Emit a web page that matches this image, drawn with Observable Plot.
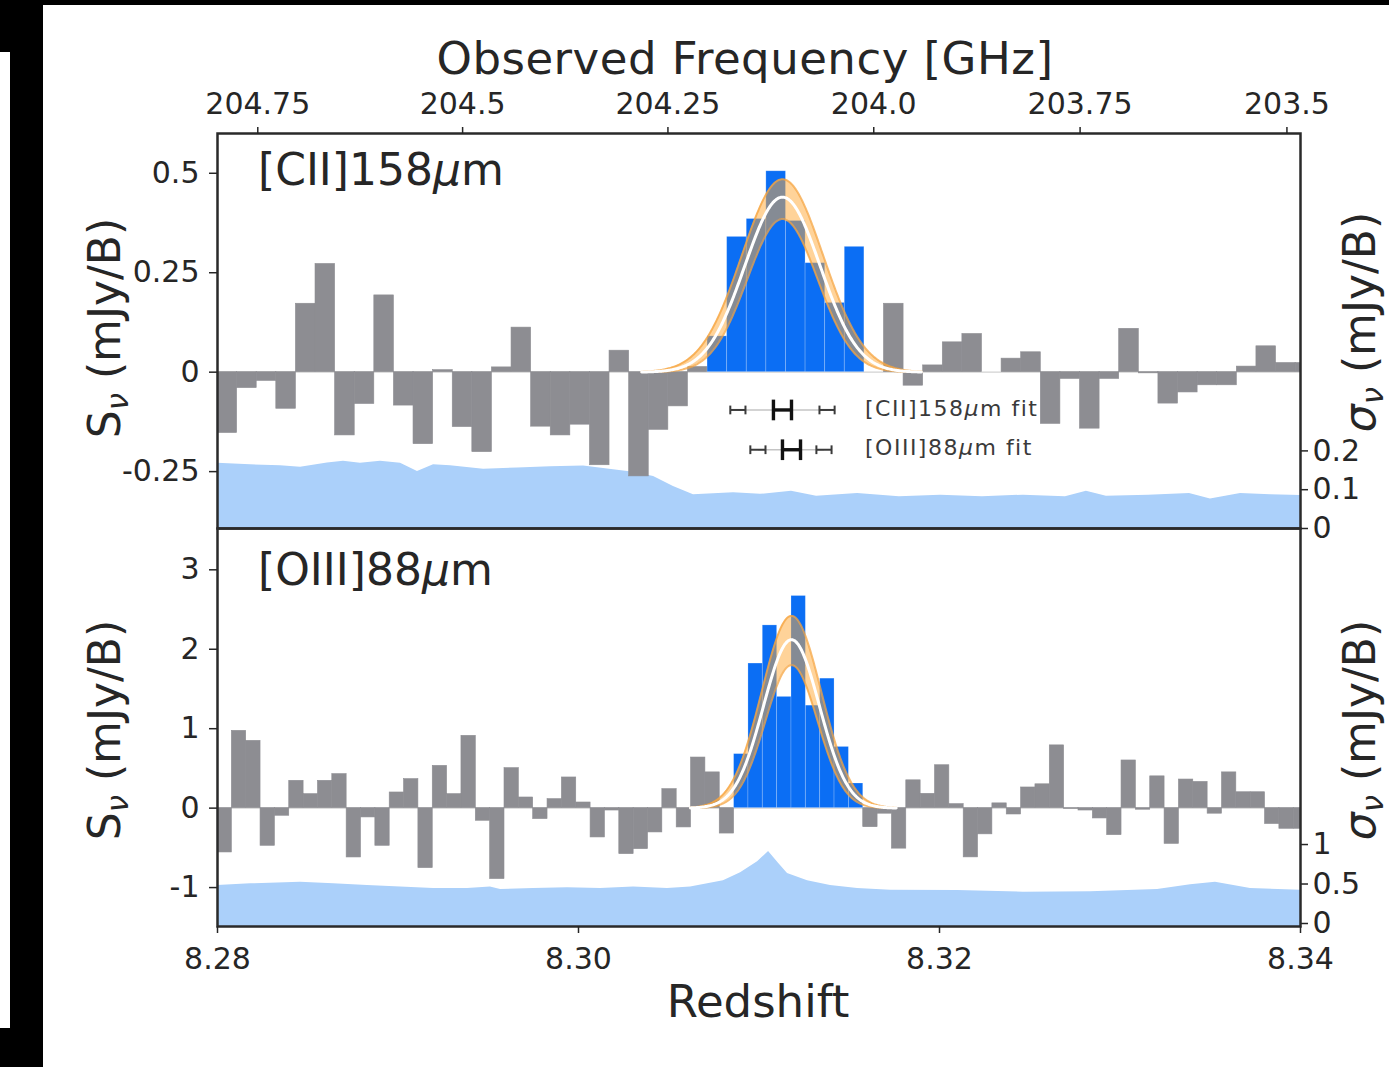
<!DOCTYPE html>
<html><head><meta charset="utf-8">
<script src="https://cdn.jsdelivr.net/npm/d3@7"></script>
<script src="https://cdn.jsdelivr.net/npm/@observablehq/plot@0.6"></script>
<style>
html,body{margin:0;padding:0;background:#000;}
#page{position:relative;width:1389px;height:1067px;overflow:hidden;background:#000;font-family:"DejaVu Sans",sans-serif;color:#262626;}
.white{position:absolute;background:#fff;}
.txt{position:absolute;white-space:nowrap;line-height:1;font-family:"DejaVu Sans",sans-serif;color:#262626;}
.rot{transform-origin:center center;transform:translate(-50%,-50%) rotate(-90deg);}
sub{font-size:0.7em;vertical-align:-0.25em;line-height:0;}
</style></head><body>
<div id="page">
  <div class="white" style="left:43px;top:5px;width:1346px;height:1062px"></div>
  <div class="white" style="left:0;top:52px;width:10px;height:976px"></div>
  <div id="plots"></div>
  <div class="txt" style="left:745px;top:36px;font-size:45px;letter-spacing:0.5px;transform:translateX(-50%)">Observed Frequency [GHz]</div>
  <div class="txt" style="left:758px;top:979px;font-size:45px;transform:translateX(-50%)">Redshift</div>
  <div class="txt rot" style="left:105px;top:328px;font-size:44px">S<sub><i>ν</i></sub> (mJy/B)</div>
  <div class="txt rot" style="left:105px;top:730px;font-size:44px">S<sub><i>ν</i></sub> (mJy/B)</div>
  <div class="txt rot" style="left:1360px;top:322px;font-size:44px"><i>σ</i><sub><i>ν</i></sub> (mJy/B)</div>
  <div class="txt rot" style="left:1360px;top:730px;font-size:44px"><i>σ</i><sub><i>ν</i></sub> (mJy/B)</div>
  <div class="txt" style="left:258px;top:148px;font-size:44px">[CII]158<i>μ</i>m</div>
  <div class="txt" style="left:258px;top:548px;font-size:44px">[OIII]88<i>μ</i>m</div>
  <div class="txt" style="left:865px;top:398px;font-size:22px;letter-spacing:1.5px;color:#3a3a3a">[CII]158<i>μ</i>m fit</div>
  <div class="txt" style="left:865px;top:437px;font-size:22px;letter-spacing:1.5px;color:#3a3a3a">[OIII]88<i>μ</i>m fit</div>
</div>
<script>
// ---------------- data ----------------
const xDomain = [8.28, 8.34];

// top (frequency) axis
const freqTickValues = [204.75, 204.5, 204.25, 204.0, 203.75, 203.5];
const freqTickLabels = ["204.75", "204.5", "204.25", "204.0", "203.75", "203.5"];
const ciiRestGHz = 1900.537;

// redshift axis
const zTickValues = [8.28, 8.30, 8.32, 8.34];
const zTickLabels = ["8.28", "8.30", "8.32", "8.34"];

// [CII] channels
const ciiZ0 = 8.28, ciiDz = 0.001086;
const ciiFlux = [-0.153,-0.040,-0.022,-0.092,0.172,0.272,-0.159,-0.080,0.193,-0.084,-0.181,0.005,
  -0.138,-0.201,0.012,0.112,-0.137,-0.159,-0.132,-0.234,0.054,-0.262,-0.145,-0.086,0.013,
  0.09,0.34,0.385,0.505,0.38,0.274,0.174,0.315,
  0.0,0.172,-0.034,0.017,0.075,0.096,0.0,0.034,0.05,-0.130,-0.017,-0.142,-0.017,0.109,-0.003,
  -0.079,-0.051,-0.033,-0.033,0.014,0.065,0.023,0.023];
const ciiLineChannels = [25, 32];

// [OIII] channels
const oiiiZ0 = 8.28, oiiiDz = 0.000795;
const oiiiFlux = [-0.558,0.973,0.847,-0.474,-0.096,0.344,0.176,0.344,0.428,-0.621,-0.117,-0.474,
  0.197,0.365,-0.755,0.532,0.176,0.910,-0.159,-0.893,0.503,0.134,-0.138,0.113,0.386,0.071,
  -0.369,-0.03,-0.579,-0.516,-0.306,0.239,-0.243,0.637,0.45,-0.32,
  0.68,1.82,2.30,1.40,2.67,1.29,1.63,0.77,0.31,
  -0.24,-0.07,-0.51,0.35,0.18,0.54,0.05,-0.62,-0.33,0.06,-0.08,0.26,0.30,0.79,-0.01,-0.03,
  -0.13,-0.34,0.60,-0.02,0.40,-0.45,0.36,0.33,-0.07,0.45,0.20,0.20,-0.20,-0.26,-0.26];
const oiiiLineChannels = [36, 44];

// noise per channel (right axes)
const ciiNoiseZ = [8.28000,8.28183,8.28349,8.28460,8.28609,8.28698,8.28792,8.28903,8.29014,8.29108,
  8.29197,8.29291,8.29474,8.29662,8.29845,8.30028,8.30216,8.30305,8.30416,8.30526,8.30637,8.30859,
  8.31008,8.31180,8.31319,8.31546,8.31778,8.32006,8.32238,8.32465,8.32698,8.32814,8.32925,8.33158,
  8.33385,8.33501,8.33668,8.33834,8.34000];
const ciiNoise = [0.168,0.164,0.162,0.158,0.169,0.173,0.168,0.173,0.168,0.147,
  0.164,0.162,0.153,0.156,0.159,0.161,0.150,0.145,0.134,0.108,0.087,0.092,
  0.088,0.096,0.083,0.090,0.082,0.086,0.082,0.086,0.082,0.096,0.083,0.086,
  0.090,0.076,0.090,0.087,0.085];
const oiiiNoiseZ = [8.28000,8.28183,8.28460,8.28643,8.28831,8.29014,8.29197,8.29385,8.29512,8.29568,
  8.29751,8.29939,8.30122,8.30305,8.30493,8.30621,8.30803,8.30898,8.30992,8.31053,8.31108,8.31158,
  8.31269,8.31396,8.31546,8.31729,8.32100,8.32465,8.32837,8.33208,8.33391,8.33529,8.33723,8.34000];
const oiiiNoise = [0.52,0.54,0.56,0.54,0.52,0.50,0.48,0.48,0.50,0.47,
  0.48,0.49,0.48,0.50,0.48,0.50,0.58,0.68,0.82,0.95,0.80,0.67,
  0.58,0.52,0.48,0.46,0.455,0.435,0.44,0.47,0.53,0.56,0.48,0.46];

// Gaussian fits: [lower bound, best, upper bound]
const ciiFitCenter = 8.3113, ciiFitAmp = [0.385, 0.44, 0.485], ciiFitWidth = [0.00195, 0.00209, 0.00225];
const ciiFitRange = [8.3035, 8.3190];
const oiiiFitCenter = 8.3118, oiiiFitAmp = [1.80, 2.12, 2.42], oiiiFitWidth = [0.00145, 0.00155, 0.00165];
const oiiiFitRange = [8.3062, 8.3176];

// legend error bars (center +- error, and center -/+ FWHM/2 +- error), in the [CII] panel
const legY = [-0.095, -0.195];
const legCenter = [8.3113, 8.3118], legCenterErr = [0.0005, 0.0005];
const legLow = [8.30883, 8.30994], legHigh = [8.31377, 8.31360], legEdgeErr = [0.00042, 0.00042];
const legCenterCap = 0.026, legEdgeCap = 0.011;

// ---------------- helpers ----------------
const grayC = "#8d8d92", blueC = "#0b6ef4", noiseC = "#abd0fa";
const channels = (z0, dz, flux, line) => flux.map((v, i) => ({
  z1: z0 + i * dz, z2: z0 + (i + 1) * dz, v, line: i >= line[0] && i <= line[1]
}));
const gauss = (c, a, s) => z => a * Math.exp(-0.5 * ((z - c) / s) ** 2);
const fitBand = (c, amps, widths, range) => {
  const [lo, best, hi] = amps.map((a, i) => gauss(c, a, widths[i]));
  return d3.range(range[0], range[1] + 1e-9, 0.00005).map(z => ({z, lo: lo(z), best: best(z), hi: hi(z)}));
};
const style = {background: "transparent", fontFamily: "DejaVu Sans", fontSize: "30px", color: "#262626", overflow: "visible"};
const common = {width: 1389, marginLeft: 217, marginRight: 89, style};

const ciiCh = channels(ciiZ0, ciiDz, ciiFlux, ciiLineChannels);
const oiiiCh = channels(oiiiZ0, oiiiDz, oiiiFlux, oiiiLineChannels);
const ciiNoiseData = ciiNoiseZ.map((z, i) => ({z, s: ciiNoise[i]}));
const oiiiNoiseData = oiiiNoiseZ.map((z, i) => ({z, s: oiiiNoise[i]}));
const ciiBand = fitBand(ciiFitCenter, ciiFitAmp, ciiFitWidth, ciiFitRange);
const oiiiBand = fitBand(oiiiFitCenter, oiiiFitAmp, oiiiFitWidth, oiiiFitRange);
const freqTickZ = freqTickValues.map(f => ciiRestGHz / f - 1);

// error-bar segments for the legend: horizontal bars + vertical caps
const errBars = [];
legY.forEach((y, i) => {
  [[legLow[i], legEdgeErr[i], legEdgeCap, "edge"], [legHigh[i], legEdgeErr[i], legEdgeCap, "edge"],
   [legCenter[i], legCenterErr[i], legCenterCap, "center"]].forEach(([c, e, h, kind]) => {
    errBars.push({x1: c - e, x2: c + e, y1: y, y2: y, kind});
    errBars.push({x1: c - e, x2: c - e, y1: y - h, y2: y + h, kind});
    errBars.push({x1: c + e, x2: c + e, y1: y - h, y2: y + h, kind});
  });
});
const legLines = legY.map((y, i) => ({x1: legLow[i], x2: legHigh[i], y}));

function noisePlot(height, marginTop, marginBottom, yDomain, data, ticks, labels, dy) {
  return Plot.plot({
    ...common, height, marginTop, marginBottom,
    x: {domain: xDomain, axis: null},
    y: {domain: yDomain},
    marks: [
      Plot.areaY(data, {x: "z", y: "s", fill: noiseC, clip: true}),
      Plot.axisY({anchor: "right", ticks, tickFormat: d => labels[ticks.indexOf(d)], tickSize: 7, tickPadding: 5, strokeWidth: 1.5, label: null, dy})
    ]
  });
}

function barMarks(ch, band) {
  return [
    Plot.ruleY([0], {stroke: "#d2d2d2", strokeWidth: 1.2}),
    Plot.rect(ch.filter(d => !d.line), {x1: "z1", x2: "z2", y1: 0, y2: "v", fill: grayC, stroke: grayC, strokeWidth: 0.6, clip: true}),
    Plot.rect(ch.filter(d => d.line), {x1: "z1", x2: "z2", y1: 0, y2: "v", fill: blueC, stroke: "#ffffff", strokeOpacity: 0.25, strokeWidth: 0.8}),
    Plot.areaY(band, {x: "z", y1: "lo", y2: "hi", fill: "#ffa733", fillOpacity: 0.5}),
    Plot.line(band, {x: "z", y: "hi", stroke: "#f5a440", strokeWidth: 2, strokeOpacity: 0.75}),
    Plot.line(band, {x: "z", y: "lo", stroke: "#f5a440", strokeWidth: 2, strokeOpacity: 0.75}),
    Plot.line(band, {x: "z", y: "best", stroke: "#ffffff", strokeWidth: 3})
  ];
}

// ---------------- top panel ----------------
const topNoise = noisePlot(560, 133, 32, [0, 1.018], ciiNoiseData, [0, 0.1, 0.2], ["0", "0.1", "0.2"], 0);
const topTicks = [-0.25, 0, 0.25, 0.5], topLabels = ["-0.25", "0", "0.25", "0.5"];
const topFlux = Plot.plot({
  ...common, height: 560, marginTop: 133, marginBottom: 32,
  x: {domain: xDomain},
  y: {domain: [-0.393, 0.60]},
  marks: [
    ...barMarks(ciiCh, ciiBand),
    Plot.link(legLines, {x1: "x1", x2: "x2", y1: "y", y2: "y", stroke: "#c4c4c4", strokeWidth: 1.5}),
    Plot.link(errBars.filter(d => d.kind === "edge"), {x1: "x1", x2: "x2", y1: "y1", y2: "y2", stroke: "#3a3a3a", strokeWidth: 2}),
    Plot.link(errBars.filter(d => d.kind === "center"), {x1: "x1", x2: "x2", y1: "y1", y2: "y2", stroke: "#111", strokeWidth: 3.4}),
    Plot.frame({stroke: "#2a2a2a", strokeWidth: 2.5}),
    Plot.axisY({anchor: "left", ticks: topTicks, tickFormat: d => topLabels[topTicks.indexOf(d)], tickSize: 8, tickPadding: 10, strokeWidth: 1.5, label: null}),
    Plot.axisX({anchor: "top", ticks: freqTickZ, tickFormat: d => freqTickLabels[freqTickZ.indexOf(d)], tickSize: 7, tickPadding: 13, strokeWidth: 1.5, label: null})
  ]
});

// ---------------- bottom panel ----------------
const botNoise = noisePlot(587, 48, 141, [0, 5.04], oiiiNoiseData, [0, 0.5, 1], ["0", "0.5", "1"], -3);
const botTicks = [-1, 0, 1, 2, 3], botLabels = ["-1", "0", "1", "2", "3"];
const botFlux = Plot.plot({
  ...common, height: 587, marginTop: 48, marginBottom: 141,
  x: {domain: xDomain},
  y: {domain: [-1.49, 3.52]},
  marks: [
    ...barMarks(oiiiCh, oiiiBand),
    Plot.frame({stroke: "#2a2a2a", strokeWidth: 2.5}),
    Plot.axisY({anchor: "left", ticks: botTicks, tickFormat: d => botLabels[botTicks.indexOf(d)], tickSize: 8, tickPadding: 10, strokeWidth: 1.5, label: null}),
    Plot.axisX({anchor: "bottom", ticks: zTickValues, tickFormat: d => zTickLabels[zTickValues.indexOf(d)], tickSize: 7, tickPadding: 14, strokeWidth: 1.5, label: null})
  ]
});

const holder = document.getElementById("plots");
[[topNoise, 0], [topFlux, 0], [botNoise, 480], [botFlux, 480]].forEach(([el, top]) => {
  el.style.position = "absolute"; el.style.left = "0px"; el.style.top = top + "px";
  holder.appendChild(el);
});
</script>
</body></html>
